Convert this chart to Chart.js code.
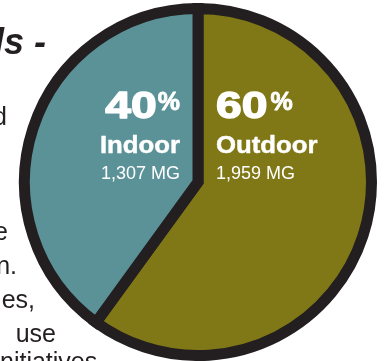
<!DOCTYPE html>
<html>
<head>
<meta charset="utf-8">
<script src="https://cdn.jsdelivr.net/npm/chart.js@4.4.1/dist/chart.umd.min.js"></script>
<style>
  html, body { margin: 0; padding: 0; background: #fff; }
  #wrap { width: 384px; height: 361px; position: relative; }
</style>
</head>
<body>
<div id="wrap"><canvas id="myChart"></canvas></div>
<script>
const categories = ["Outdoor", "Indoor"];
const shares = [60, 40];          // percent of total
const volumes = [1959, 1307];     // million gallons (MG)
const sliceColors = ["#807817", "#5b9298"];

const ink = "#231f20";

// white labels inside each slice, anchored on the pie centre
const sliceLabels = {
  id: "sliceLabels",
  afterDatasetsDraw(chart) {
    const ctx = chart.ctx;
    const arc = chart.getDatasetMeta(0).data[0];
    const cx = arc.x, cy = arc.y;
    ctx.save();
    ctx.fillStyle = "#fff";
    ctx.strokeStyle = "#fff";
    ctx.textBaseline = "alphabetic";

    function stretched(text, x, y, font, sx, align, heavy) {
      ctx.save();
      ctx.font = font;
      const w = ctx.measureText(text).width * sx;
      ctx.translate(align === "right" ? x - w : x, y);
      ctx.scale(sx, 1);
      ctx.textAlign = "left";
      ctx.fillText(text, 0, 0);
      if (heavy) {
        ctx.lineWidth = heavy;
        ctx.lineJoin = "round";
        ctx.strokeText(text, 0, 0);
      }
      ctx.restore();
      return w;
    }

    categories.forEach((name, i) => {
      const right = i === 1;           // indoor sits left of the divider
      const x = right ? cx - 18 : cx + 18;
      const align = right ? "right" : "left";
      const pctFont = "bold 25px 'Liberation Sans', Arial, sans-serif";
      const bigFont = "bold 37px 'Liberation Sans', Arial, sans-serif";
      if (right) {
        const pw = stretched("%", x, cy - 72, pctFont, 1, "right", 0.8);
        stretched(String(shares[i]), x - pw - 1, cy - 64, bigFont, 1.25, "right", 1.4);
      } else {
        const dw = stretched(String(shares[i]), x, cy - 64, bigFont, 1.25, "left", 1.4);
        stretched("%", x + dw + 3, cy - 72, pctFont, 1, "left", 0.8);
      }
      stretched(name, x, cy - 29, "bold 23px 'Liberation Sans', Arial, sans-serif", 1.12, align, 0.4);
      stretched(volumes[i].toLocaleString("en-US") + " MG", x, cy - 3,
        "18px 'Liberation Sans', Arial, sans-serif", 1, align, 0);
    });
    ctx.restore();
  }
};

// clipped fragments of the surrounding page text
const pageText = {
  id: "pageText",
  afterDraw(chart) {
    const ctx = chart.ctx;
    ctx.save();
    ctx.fillStyle = ink;
    ctx.textAlign = "left";
    ctx.textBaseline = "alphabetic";
    ctx.font = "italic bold 36px 'Liberation Sans', Arial, sans-serif";
    ctx.fillText("ls -", -6, 54);
    ctx.font = "25px 'Liberation Sans', Arial, sans-serif";
    ctx.textAlign = "right";
    ctx.fillText("d", 7, 125);
    ctx.fillText("e", 8, 240);
    ctx.fillText("n.", 17, 274);
    ctx.fillText("es,", 35, 308);
    ctx.fillText("use", 56, 342);
    ctx.textAlign = "left";
    ctx.fillText("nitiatives", 0, 370);
    ctx.restore();
  }
};

const ctx = document.getElementById("myChart").getContext("2d");
new Chart(ctx, {
  type: "pie",
  data: {
    labels: categories,
    datasets: [{
      data: shares,
      backgroundColor: sliceColors,
      borderColor: ink,
      borderWidth: 11,
      hoverBorderWidth: 11,
      borderJoinStyle: "miter"
    }]
  },
  options: {
    responsive: true,
    maintainAspectRatio: false,
    animation: false,
    events: [],
    layout: { padding: { left: 19, top: 3, right: 7, bottom: 0 } },
    plugins: {
      legend: { display: false },
      tooltip: { enabled: false }
    }
  },
  plugins: [sliceLabels, pageText]
});
</script>
</body>
</html>
